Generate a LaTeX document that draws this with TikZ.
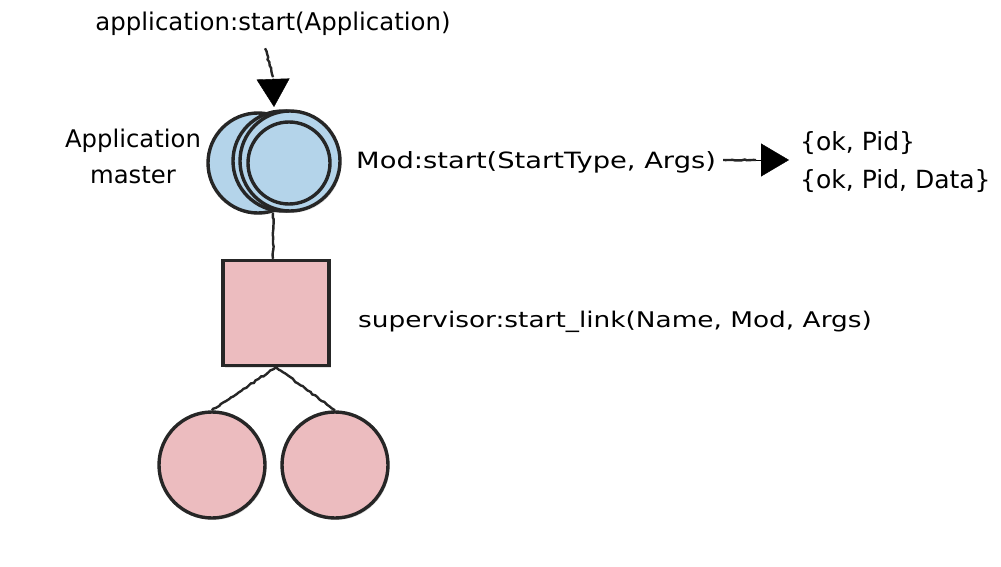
\documentclass[tikz,border=0pt]{standalone}
\usepackage{fontspec}
\setmainfont{DejaVu Sans}
\newfontfamily\widefont[FakeStretch=1.22]{DejaVu Sans}
\usetikzlibrary{arrows.meta,decorations.pathmorphing,shadows,calc}
\definecolor{inkc}{HTML}{262626}
\definecolor{procblue}{HTML}{B4D4EA}
\definecolor{procpink}{HTML}{ECBCBF}
\tikzset{
  ink/.style={draw=inkc, line width=3.4pt},
  shade/.style={drop shadow={opacity=0.22, shadow xshift=1.5pt, shadow yshift=-2pt}},
  blueproc/.style={circle, ink, shade, fill=procblue, minimum size=100pt, inner sep=0pt},
  innerring/.style={circle, ink, minimum size=82pt, inner sep=0pt},
  pinkproc/.style={circle, ink, shade, fill=procpink, minimum size=106pt, inner sep=0pt},
  supbox/.style={rectangle, ink, shade, fill=procpink, minimum width=106pt, minimum height=105pt, inner sep=0pt},
  lbl/.style={inner sep=0pt, text=black},
  conn/.style={draw=inkc, line width=2.4pt, decorate, decoration={random steps, segment length=3pt, amplitude=0.7pt}},
  tipline/.style={draw=black, line width=0.4pt, -{Triangle[width=33pt,length=28pt]}},
}
\begin{document}
\begin{tikzpicture}[x=1pt,y=-1pt]
\useasboundingbox (0,0) rectangle (1001,567);
% application master processes
\node[blueproc] (m1) at (258,163) {};
\node[blueproc] (m2) at (283,161) {};
\node[blueproc] (m3) at (290,161) {};
\node[innerring] (m3in) at (289,163) {};
% supervisor
\node[supbox] (sup) at (276,313) {};
% workers
\node[pinkproc] (w1) at (212,465) {};
\node[pinkproc] (w2) at (335,465) {};
% texts
\node[lbl, anchor=base, font=\fontsize{24.4}{30}\selectfont] (title) at (273,31) {application:start(Application)};
\node[lbl, align=center, font=\fontsize{24.3}{36}\selectfont] (am) at (133,156.5) {Application\\master};
\node[lbl, anchor=base west, font=\widefont\fontsize{22.4}{30}\selectfont] (modstart) at (356,168) {Mod:start(StartType, Args)};
\node[lbl, anchor=west, align=left, font=\fontsize{25}{38}\selectfont] (res) at (800,162) {\{ok, Pid\}\\\{ok, Pid, Data\}};
\node[lbl, anchor=base west, font=\widefont\fontsize{21.6}{30}\selectfont] (suplink) at (358,327) {supervisor:start\_link(Name, Mod, Args)};
% connectors
\coordinate (toptip) at (274,107);
\coordinate (topbase) at (273,77);
\draw[conn] ($(title.south)+(-8,12)$) -- (topbase);
\draw[tipline] (topbase) -- (toptip);
\coordinate (rtip) at (789,160);
\coordinate (rbase) at (756,160);
\draw[conn] ($(modstart.east |- rbase)+(7,0)$) -- (rbase);
\draw[tipline] (rbase) -- (rtip);
\draw[conn] (sup.north -| 273,0) -- (m2.south -| 273,0);
\draw[conn] (sup.south) -- (w1.north);
\draw[conn] (sup.south) -- (w2.north);
\end{tikzpicture}
\end{document}
